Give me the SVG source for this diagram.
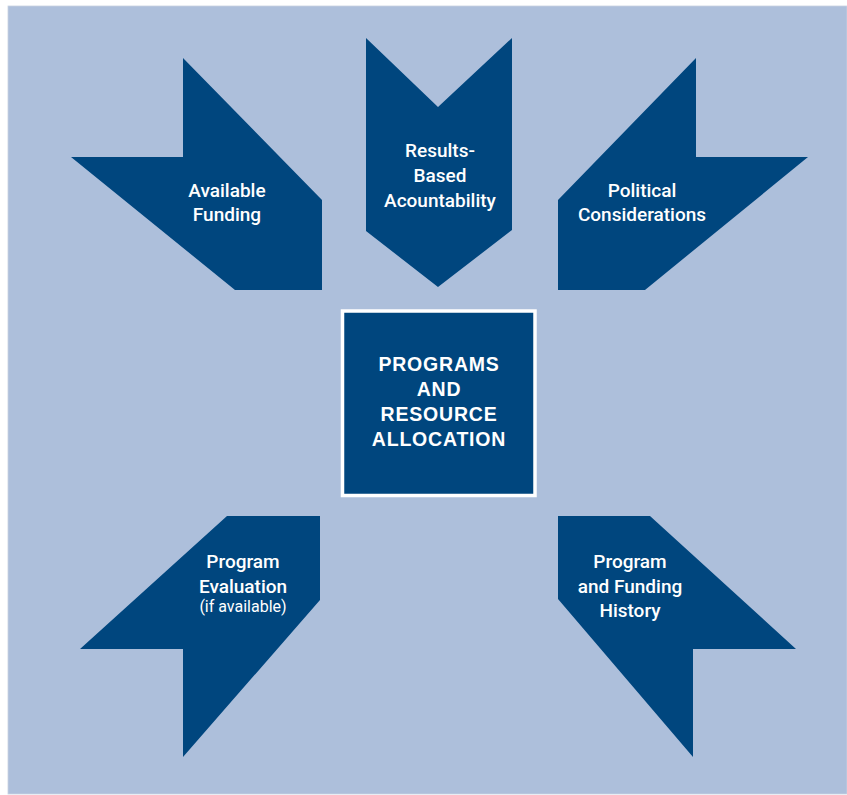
<svg xmlns="http://www.w3.org/2000/svg" width="847" height="795" viewBox="0 0 847 795">
<style>
.arrow{fill:#00467e}
.lbl{font-family:Roboto,"Liberation Sans",sans-serif;font-weight:500;font-size:19px;fill:#ffffff;text-anchor:middle}
.small{font-size:16px;font-weight:400}
.ctr{font-family:"Liberation Sans",Arial,sans-serif;font-weight:bold;font-size:19.5px;fill:#ffffff;text-anchor:middle;letter-spacing:0.8px}
</style>
<rect x="0" y="0" width="847" height="795" fill="#ffffff"/>
<rect x="8" y="6" width="839" height="788" fill="#adbfdb" stroke="#c8d2e2" stroke-width="0.8"/>
<g id="connectors"/>
<g id="available-funding">
<polygon class="arrow" points="183,58 322,200 322,290 235,290 71,157 183,157"/>
<text class="lbl" x="227" y="197">Available</text>
<text class="lbl" x="227" y="221">Funding</text>
</g>
<g id="results-based">
<polygon class="arrow" points="366,38 438,107 512,38 512,230 438,287 366,231"/>
<text class="lbl" x="440" y="157">Results-</text>
<text class="lbl" x="440" y="182">Based</text>
<text class="lbl" x="440" y="207">Acountability</text>
</g>
<g id="political">
<polygon class="arrow" points="696,58 696,157 808,157 645,290 558,290 558,200"/>
<text class="lbl" x="642" y="197">Political</text>
<text class="lbl" x="642" y="221">Considerations</text>
</g>
<g id="program-evaluation">
<polygon class="arrow" points="227,516 320,516 320,600 183,757 183,649 80,649"/>
<text class="lbl" x="243" y="568">Program</text>
<text class="lbl" x="243" y="593">Evaluation</text>
<text class="lbl small" x="243" y="612">(if available)</text>
</g>
<g id="program-history">
<polygon class="arrow" points="558,516 650,516 796,649 693,649 693,757 558,599"/>
<text class="lbl" x="630" y="568">Program</text>
<text class="lbl" x="630" y="593">and Funding</text>
<text class="lbl" x="630" y="617">History</text>
</g>
<g id="programs-resource">
<rect x="342.5" y="311" width="192.5" height="184.5" fill="#00467e" stroke="#ffffff" stroke-width="3.5"/>
<text class="ctr" x="439" y="371">PROGRAMS</text>
<text class="ctr" x="439" y="396">AND</text>
<text class="ctr" x="439" y="421">RESOURCE</text>
<text class="ctr" x="439" y="446">ALLOCATION</text>
</g>
</svg>
